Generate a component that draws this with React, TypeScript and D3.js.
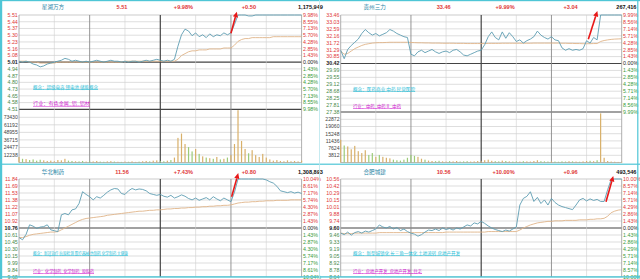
import React from "react";
import * as d3 from "d3";

const W = 640;
const H = 279;

// ---------- Panel 1: 星湖万方 ----------
const P1_HEADER = ["星湖万方", "5.51", "+9.98%", "+0.50", "1,175,949"];
const P1_PREV = 5.01;
const P1_HIGH = 5.51;
const P1_LEFT_TICKS = ["5.51", "5.44", "5.37", "5.30", "5.23", "5.16", "5.08", "5.01", "4.94", "4.87", "4.80", "4.73", "4.65", "4.58", "4.51"];
const P1_RIGHT_TICKS = ["9.98%", "8.55%", "7.13%", "5.70%", "4.28%", "2.85%", "1.43%", "0.00%", "1.43%", "2.85%", "4.28%", "5.70%", "7.13%", "8.55%", "9.98%"];
const P1_VOL_TICKS = ["73430", "61192", "48955", "36715", "24477", "12238"];
const P1_VOL_MAX = 73430;
const P1_PRICE = [5.02, 5.01, 5.02, 5.01, 4.99, 4.98, 4.96, 4.97, 4.99, 5.0, 5.01, 5.02, 5.03, 5.05, 5.04, 5.02, 5.03, 5.02, 5.01, 5.02, 5.01, 5.02, 5.03, 5.02, 5.01, 5.02, 5.03, 5.02, 5.02, 5.01, 5.02, 5.01, 5.02, 5.02, 5.01, 5.02, 5.03, 5.02, 5.03, 5.04, 5.03, 5.02, 5.03, 5.02, 5.04, 5.18, 5.3, 5.36, 5.34, 5.29, 5.32, 5.28, 5.3, 5.27, 5.31, 5.28, 5.3, 5.29, 5.32, 5.3, 5.32, 5.41, 5.51, 5.51, 5.51, 5.5, 5.5, 5.51, 5.51, 5.51, 5.51, 5.51, 5.51, 5.51, 5.51, 5.51, 5.51, 5.51, 5.51, 5.51, 5.51];
const P1_AVG = [5.02, 5.02, 5.02, 5.01, 5.01, 5.01, 5.0, 5.0, 5.0, 5.0, 5.0, 5.01, 5.01, 5.01, 5.01, 5.01, 5.01, 5.01, 5.01, 5.01, 5.01, 5.01, 5.01, 5.01, 5.01, 5.01, 5.01, 5.01, 5.01, 5.01, 5.02, 5.02, 5.02, 5.02, 5.02, 5.02, 5.02, 5.02, 5.02, 5.02, 5.02, 5.02, 5.02, 5.02, 5.02, 5.04, 5.08, 5.1, 5.12, 5.13, 5.13, 5.14, 5.14, 5.14, 5.15, 5.15, 5.15, 5.15, 5.16, 5.16, 5.16, 5.19, 5.23, 5.25, 5.26, 5.26, 5.27, 5.27, 5.27, 5.27, 5.27, 5.27, 5.28, 5.28, 5.28, 5.28, 5.28, 5.28, 5.28, 5.28, 5.28];
const P1_VOL = [9000, 6000, 5500, 4000, 5000, 3000, 4500, 3500, 2500, 3000, 2000, 4000, 3500, 6000, 3000, 2500, 2000, 1800, 2500, 1500, 2000, 1800, 2500, 1500, 1200, 1800, 2200, 1500, 1200, 1000, 1500, 1200, 1800, 1000, 1400, 2000, 2500, 1800, 3000, 3500, 2500, 2000, 3000, 4000, 8000, 40000, 47000, 30000, 25000, 18000, 22000, 14000, 10000, 8000, 7000, 6000, 9000, 5000, 6000, 8000, 12000, 30000, 85000, 35000, 22000, 15000, 20000, 12000, 9000, 14000, 8000, 5000, 3000, 4000, 2500, 2000, 3500, 2000, 2500, 1800, 3000];
const P1_NOTES = ["概念：超级电容  锂电池  储能概念", "行业：有色金属_铝_铝材"];
const P1_ARROW = [180, 5.316, 185, 5.545];

// ---------- Panel 2: 贵州三力 ----------
const P2_HEADER = ["贵州三力", "33.46", "+9.99%", "+3.04", "267,416"];
const P2_PREV = 30.42;
const P2_HIGH = 33.46;
const P2_LEFT_TICKS = ["33.46", "33.03", "32.59", "32.16", "31.72", "31.29", "30.85", "30.42", "29.99", "29.55", "29.12", "28.68", "28.25", "27.81", "27.38"];
const P2_RIGHT_TICKS = ["9.99%", "8.56%", "7.14%", "5.71%", "4.28%", "2.85%", "1.43%", "0.00%", "1.43%", "2.85%", "4.28%", "5.71%", "7.14%", "8.56%", "9.99%"];
const P2_VOL_TICKS = ["22872", "19060", "15248", "11436", "7624", "3812"];
const P2_VOL_MAX = 22872;
const P2_PRICE = [31.25, 30.72, 31.3, 31.55, 31.75, 31.95, 32.3, 32.55, 32.35, 32.2, 32.3, 32.15, 32.25, 32.35, 32.55, 32.45, 32.3, 32.2, 32.1, 32.05, 31.0, 30.9, 31.15, 31.25, 31.1, 31.2, 31.3, 31.15, 31.05, 31.15, 31.2, 31.1, 31.25, 31.3, 31.15, 30.95, 30.9, 31.0, 31.1, 31.2, 31.25, 31.6, 32.1, 32.4, 32.05, 31.9, 32.4, 32.0, 32.35, 32.1, 31.8, 31.9, 31.7, 31.85, 31.95, 32.1, 32.45, 32.2, 32.05, 31.95, 32.1, 31.9, 31.85, 31.4, 31.25, 31.35, 31.25, 31.3, 31.25, 31.35, 31.85, 31.7, 32.05, 31.9, 33.46, 33.46, 33.46, 33.46, 33.46, 33.46, 33.46];
const P2_AVG = [31.2, 31.0, 31.05, 31.2, 31.35, 31.45, 31.55, 31.62, 31.66, 31.7, 31.72, 31.73, 31.73, 31.74, 31.75, 31.75, 31.75, 31.75, 31.75, 31.75, 31.74, 31.73, 31.72, 31.72, 31.71, 31.71, 31.7, 31.7, 31.7, 31.69, 31.69, 31.69, 31.69, 31.68, 31.68, 31.68, 31.67, 31.67, 31.67, 31.67, 31.67, 31.67, 31.68, 31.68, 31.68, 31.68, 31.69, 31.69, 31.69, 31.69, 31.69, 31.69, 31.69, 31.69, 31.69, 31.7, 31.7, 31.7, 31.7, 31.7, 31.7, 31.7, 31.7, 31.69, 31.69, 31.68, 31.68, 31.67, 31.67, 31.66, 31.66, 31.66, 31.67, 31.67, 31.8, 31.86, 31.9, 31.93, 31.95, 31.96, 31.97];
const P2_VOL = [12000, 9000, 8500, 7000, 8800, 6000, 5000, 6500, 4000, 5000, 3000, 4000, 3000, 2500, 2200, 1500, 1200, 1000, 1500, 2500, 4000, 3500, 3000, 2000, 1500, 1000, 800, 700, 900, 600, 500, 700, 600, 800, 500, 600, 700, 500, 600, 800, 700, 1200, 1500, 900, 700, 600, 1000, 800, 600, 500, 600, 500, 700, 600, 500, 800, 1200, 700, 600, 500, 600, 500, 400, 600, 500, 700, 600, 500, 400, 600, 800, 900, 700, 1200, 26000, 2500, 800, 500, 400, 300, 400];
const P2_NOTES = ["概念：医药商业  中药  民营医院", "行业：中药_中药Ⅱ_中药"];
const P2_ARROW = [211.5, 31.94, 219.2, 33.71];

// ---------- Panel 3: 华北制药 ----------
const P3_HEADER = ["华北制药", "11.56", "+7.43%", "+0.80", "1,308,893"];
const P3_PREV = 10.76;
const P3_HIGH = 11.84;
const P3_LEFT_TICKS = ["11.84", "11.69", "11.53", "11.38", "11.22", "11.07", "10.92", "10.76", "10.61", "10.45", "10.30", "10.15", "9.99", "9.84", "9.68"];
const P3_RIGHT_TICKS = ["10.04%", "8.61%", "7.17%", "5.74%", "4.30%", "2.87%", "1.43%", "0.00%", "1.43%", "2.87%", "4.30%", "5.74%", "7.17%", "8.61%", "10.04%"];
const P3_PRICE = [10.55, 10.5, 10.62, 10.83, 10.8, 10.75, 10.78, 10.79, 10.83, 10.72, 10.7, 10.68, 11.05, 11.08, 11.05, 11.16, 11.18, 11.3, 11.56, 11.5, 11.45, 11.38, 11.45, 11.42, 11.48, 11.55, 11.6, 11.63, 11.62, 11.52, 11.5, 11.58, 11.63, 11.6, 11.62, 11.61, 11.58, 11.52, 11.5, 11.48, 11.5, 11.46, 11.44, 11.48, 11.42, 11.45, 11.49, 11.46, 11.41, 11.38, 11.42, 11.37, 11.4, 11.43, 11.38, 11.45, 11.4, 11.36, 11.42, 11.38, 11.34, 11.55, 11.84, 11.84, 11.84, 11.84, 11.84, 11.84, 11.84, 11.84, 11.82, 11.78, 11.75, 11.68, 11.58, 11.56, 11.54, 11.56, 11.53, 11.55, 11.52];
const P3_AVG = [10.55, 10.55, 10.57, 10.6, 10.62, 10.63, 10.64, 10.65, 10.66, 10.67, 10.67, 10.68, 10.72, 10.76, 10.8, 10.84, 10.88, 10.92, 10.95, 10.97, 10.98, 10.99, 11.0, 11.01, 11.02, 11.04, 11.05, 11.06, 11.07, 11.08, 11.09, 11.1, 11.11, 11.12, 11.13, 11.13, 11.14, 11.15, 11.15, 11.16, 11.16, 11.17, 11.18, 11.18, 11.19, 11.19, 11.2, 11.2, 11.21, 11.21, 11.22, 11.22, 11.23, 11.23, 11.24, 11.24, 11.25, 11.25, 11.26, 11.26, 11.27, 11.29, 11.31, 11.32, 11.33, 11.33, 11.34, 11.34, 11.35, 11.35, 11.36, 11.36, 11.36, 11.37, 11.37, 11.37, 11.37, 11.38, 11.38, 11.38, 11.38];
const P3_NOTES = ["概念：新冠治疗  抗原检测  医疗器械  仿制药  化学制药  大健康", "行业：化学制药_化学制药_原料药"];
const P3_ARROW = [180.6, 11.45, 186.2, 11.97];

// ---------- Panel 4: 合肥城建 ----------
const P4_HEADER = ["合肥城建", "10.56", "+10.00%", "+0.96", "493,546"];
const P4_PREV = 9.6;
const P4_HIGH = 10.56;
const P4_LEFT_TICKS = ["10.56", "10.42", "10.29", "10.15", "10.01", "9.88", "9.74", "9.60", "9.46", "9.33", "9.19", "9.05", "8.92", "8.78", "8.64"];
const P4_RIGHT_TICKS = ["10.00%", "8.57%", "7.14%", "5.71%", "4.29%", "2.86%", "1.43%", "0.00%", "1.43%", "2.86%", "4.29%", "5.71%", "7.14%", "8.57%", "10.00%"];
const P4_PRICE = [9.5, 9.47, 9.52, 9.46, 9.51, 9.53, 9.5, 9.54, 9.52, 9.55, 9.58, 9.66, 9.62, 9.6, 9.63, 9.58, 9.61, 9.55, 9.58, 9.53, 9.5, 9.48, 9.44, 9.47, 9.52, 9.56, 9.55, 9.58, 9.55, 9.6, 9.57, 9.59, 9.56, 9.6, 9.58, 9.62, 9.66, 9.64, 9.7, 9.68, 9.73, 9.69, 9.64, 9.6, 9.57, 9.55, 9.53, 9.56, 9.54, 9.58, 9.62, 10.05, 10.18, 10.22, 10.31, 10.12, 10.2, 10.08, 10.15, 10.05, 10.18, 10.1, 10.05, 10.02, 10.0, 9.98, 9.96, 10.05, 10.15, 10.18, 10.13, 10.17, 10.14, 10.16, 10.12, 10.12, 10.35, 10.55, 10.56, 10.56, 10.56];
const P4_AVG = [9.5, 9.49, 9.49, 9.49, 9.5, 9.5, 9.5, 9.5, 9.5, 9.5, 9.5, 9.51, 9.51, 9.51, 9.51, 9.51, 9.51, 9.51, 9.51, 9.51, 9.51, 9.51, 9.51, 9.51, 9.51, 9.51, 9.51, 9.51, 9.51, 9.51, 9.52, 9.52, 9.52, 9.52, 9.52, 9.52, 9.52, 9.52, 9.52, 9.52, 9.52, 9.52, 9.53, 9.53, 9.53, 9.53, 9.53, 9.53, 9.53, 9.53, 9.53, 9.56, 9.6, 9.63, 9.66, 9.68, 9.7, 9.71, 9.72, 9.73, 9.73, 9.74, 9.74, 9.74, 9.75, 9.75, 9.75, 9.75, 9.76, 9.76, 9.76, 9.77, 9.77, 9.78, 9.78, 9.79, 9.83, 9.9, 9.93, 9.95, 9.96];
const P4_NOTES = ["概念：新型城镇化  长三角一体化  土地流转  房地产开发", "行业：房地产开发_房地产开发_住宅"];
const P4_ARROW = [226.6, 10.115, 232.8, 10.62];

const STEP_MIN = 3;

// ---------- layout ----------
const PANELS = [
  { x0: 19, x1: 301.6, top: 15, bottom: 109.3, hdrY: 8.5, volTop: 117.3, volBase: 162.5, volX: 298, volAnchor: "start", noteX: 33, noteY: [88.5, 105], noteW: [65, 57],
    header: P1_HEADER, prev: P1_PREV, high: P1_HIGH, left: P1_LEFT_TICKS, right: P1_RIGHT_TICKS, price: P1_PRICE, avg: P1_AVG, vol: P1_VOL, volTicks: P1_VOL_TICKS, volMax: P1_VOL_MAX, notes: P1_NOTES, arrow: P1_ARROW },
  { x0: 340.7, x1: 621.7, top: 15, bottom: 112, hdrY: 8.5, volTop: 119.3, volBase: 162.5, volX: 636.5, volAnchor: "end", noteX: 353, noteY: [90.5, 107.5], noteW: [62, 48],
    header: P2_HEADER, prev: P2_PREV, high: P2_HIGH, left: P2_LEFT_TICKS, right: P2_RIGHT_TICKS, price: P2_PRICE, avg: P2_AVG, vol: P2_VOL, volTicks: P2_VOL_TICKS, volMax: P2_VOL_MAX, notes: P2_NOTES, arrow: P2_ARROW },
  { x0: 19, x1: 301.6, top: 179, bottom: 277, hdrY: 173.5, volX: 298, volAnchor: "start", noteX: 33, noteY: [254.5, 272.5], noteW: [95, 61],
    header: P3_HEADER, prev: P3_PREV, high: P3_HIGH, left: P3_LEFT_TICKS, right: P3_RIGHT_TICKS, price: P3_PRICE, avg: P3_AVG, notes: P3_NOTES, arrow: P3_ARROW },
  { x0: 340.7, x1: 621.7, top: 179, bottom: 277, hdrY: 173.5, volX: 636.5, volAnchor: "end", noteX: 353, noteY: [254.5, 272.5], noteW: [107, 69],
    header: P4_HEADER, prev: P4_PREV, high: P4_HIGH, left: P4_LEFT_TICKS, right: P4_RIGHT_TICKS, price: P4_PRICE, avg: P4_AVG, notes: P4_NOTES, arrow: P4_ARROW },
];

const RED = "#e03838";
const GREEN = "#3a9a3a";
const CYAN = "#4fc6d6";
const NUM_FONT = "'Liberation Sans', Arial, sans-serif";
const CJK_FONT = "'Noto Sans CJK SC', sans-serif";

function Panel({ p }: { p: any }) {
  const x = d3.scaleLinear().domain([0, 240]).range([p.x0, p.x1]);
  const low = p.prev - (p.high - p.prev);
  const y = d3.scaleLinear().domain([low, p.high]).range([p.bottom, p.top]);
  const gy = (i: number) => p.top + (i * (p.bottom - p.top)) / 14;

  const line = d3
    .line<number>()
    .x((_, i) => x(i * STEP_MIN))
    .y((d) => y(d));

  const vLines = d3.range(9).map((k) => p.x0 + (k * (p.x1 - p.x0)) / 8);
  const vStyle = (k: number) =>
    k === 4 ? { s: "#454545", w: 1.2 } : k === 2 || k === 6 ? { s: "#8a8a8a", w: 0.9 } : k === 0 || k === 8 ? { s: "#9a9a9a", w: 0.8 } : { s: "#d0d0d0", w: 0.6 };

  const hasVol = !!p.vol;
  const vy = hasVol ? d3.scaleLinear().domain([0, p.volMax]).range([p.volBase, p.volTop]) : null;
  const vEnd = hasVol ? p.volBase : p.bottom;

  const [at1, ap1, at2, ap2] = p.arrow;
  const ax1 = x(at1), ay1 = y(ap1), ax2 = x(at2), ay2 = y(ap2);
  const ang = Math.atan2(ay2 - ay1, ax2 - ax1);
  const hl = 5.5, hw = 2.6;
  const bx = ax2 - hl * Math.cos(ang), by = ay2 - hl * Math.sin(ang);
  const nx = -Math.sin(ang), ny = Math.cos(ang);

  return (
    <g>
      {/* header */}
      <text x={p.x0 + 34} y={p.hdrY} fontSize={5.6} fill="#2a86a6" textAnchor="middle" fontFamily={CJK_FONT}>{p.header[0]}</text>
      <text x={p.x0 + 103} y={p.hdrY} fontSize={5.6} fill={RED} textAnchor="middle" fontWeight="bold" fontFamily={NUM_FONT}>{p.header[1]}</text>
      <text x={p.x0 + 174} y={p.hdrY} fontSize={5.6} fill={RED} textAnchor="end" fontWeight="bold" fontFamily={NUM_FONT}>{p.header[2]}</text>
      <text x={p.x0 + 237} y={p.hdrY} fontSize={5.6} fill={RED} textAnchor="end" fontWeight="bold" fontFamily={NUM_FONT}>{p.header[3]}</text>
      <text x={p.volX} y={p.hdrY} fontSize={5.6} fill="#111" fontWeight="bold" textAnchor={p.volAnchor} fontFamily={NUM_FONT}>{p.header[4]}</text>

      {/* horizontal grid */}
      {d3.range(15).map((i) => {
        const dark = i === 7 || (i === 14 && hasVol);
        return (
          <line key={"h" + i} x1={p.x0} x2={p.x1} y1={gy(i)} y2={gy(i)}
            stroke={dark ? "#444" : i === 0 ? "#a8a8a8" : "#c8c8c8"} strokeWidth={dark ? 1.2 : 0.6} />
        );
      })}
      {hasVol &&
        p.volTicks.map((t: string, i: number) => {
          const yy = vy!(+t);
          return <line key={"vh" + i} x1={p.x0} x2={p.x1} y1={yy} y2={yy} stroke="#c8c8c8" strokeWidth={0.6} />;
        })}
      {hasVol && <line x1={p.x0} x2={p.x1} y1={p.volBase} y2={p.volBase} stroke="#9a9a9a" strokeWidth={0.7} />}

      {/* vertical grid */}
      {vLines.map((vx, k) => {
        const st = vStyle(k);
        return <line key={"v" + k} x1={vx} x2={vx} y1={p.top} y2={vEnd} stroke={st.s} strokeWidth={st.w} />;
      })}

      {/* tick labels */}
      {p.left.map((t: string, i: number) => (
        <text key={"l" + i} x={p.x0 - 1.2} y={gy(i) + 1.9} fontSize={5.3} textAnchor="end" fontFamily={NUM_FONT}
          fill={i < 7 ? RED : i === 7 ? "#222" : "#4a8a4a"} fontWeight={i === 7 ? "bold" : "normal"}>{t}</text>
      ))}
      {p.right.map((t: string, i: number) => (
        <text key={"r" + i} x={p.x1 + 1.4} y={gy(i) + 1.9} fontSize={5.3} fontFamily={NUM_FONT}
          fill={i < 7 ? RED : i === 7 ? "#222" : GREEN}>{t}</text>
      ))}
      {hasVol &&
        p.volTicks.map((t: string, i: number) => (
          <text key={"vl" + i} x={p.x0 - 1.2} y={vy!(+t) + 1.9} fontSize={5.1} textAnchor="end" fontFamily={NUM_FONT} fill="#444">{t}</text>
        ))}

      {/* volume bars */}
      {hasVol &&
        p.vol.map((v: number, i: number) => {
          const up = i === 0 ? p.price[0] >= p.prev : p.price[i] >= p.price[i - 1];
          const yy = vy!(v);
          return (
            <rect key={"b" + i} x={x(i * STEP_MIN) - 0.6} y={Math.max(yy, p.bottom + 0.6)} width={1.2}
              height={p.volBase - Math.max(yy, p.bottom + 0.6)} fill={up ? "#d8b06a" : "#9ccb78"} />
          );
        })}

      {/* notes */}
      <text x={p.noteX} y={p.noteY[0]} fontSize={5} fill="#2cc0d8" fontFamily={CJK_FONT} textLength={p.noteW[0]} lengthAdjust="spacingAndGlyphs" textDecoration="underline">{p.notes[0]}</text>
      <text x={p.noteX} y={p.noteY[1]} fontSize={5} fill="#d020d0" fontFamily={CJK_FONT} textLength={p.noteW[1]} lengthAdjust="spacingAndGlyphs" textDecoration="underline">{p.notes[1]}</text>

      {/* average & price */}
      <path d={line(p.avg) || ""} fill="none" stroke="#e0b489" strokeWidth={0.9} />
      <path d={line(p.price) || ""} fill="none" stroke="#5e9db2" strokeWidth={0.9} />

      {/* red arrow */}
      <line x1={ax1} y1={ay1} x2={bx} y2={by} stroke="#e81818" strokeWidth={1.6} />
      <polygon points={`${ax2},${ay2} ${bx + nx * hw},${by + ny * hw} ${bx - nx * hw},${by - ny * hw}`} fill="#e81818" />
    </g>
  );
}

export default function App() {
  return (
    <svg width={W} height={H} viewBox={`0 0 ${W} ${H}`} style={{ position: "absolute", left: 0, top: 0, background: "#fff" }}>
      <rect x={0} y={0} width={W} height={H} fill="#fff" />
      {PANELS.map((p, i) => (
        <Panel key={i} p={p} />
      ))}
      {/* cyan frame */}
      <rect x={0} y={0} width={W} height={1.2} fill={CYAN} />
      <rect x={0} y={0} width={2.2} height={H} fill={CYAN} />
      <rect x={0} y={163.6} width={W} height={1.2} fill={CYAN} />
      <rect x={0} y={276.2} width={W} height={1.4} fill={CYAN} />
      <rect x={637.2} y={0} width={1.2} height={H} fill={CYAN} />
      <rect x={319.2} y={0} width={0.8} height={H} fill="#b8e6ee" />
    </svg>
  );
}
